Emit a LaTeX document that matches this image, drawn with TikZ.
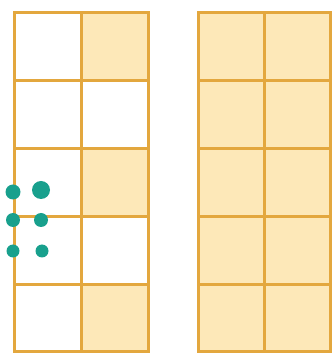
\documentclass[tikz,border=0pt]{standalone}
\usepackage{xcolor}
\usepackage{tikz}
\usetikzlibrary{positioning}
\definecolor{gridorange}{HTML}{E3A73E}
\definecolor{lightyellow}{HTML}{FDE8B8}
\definecolor{dotteal}{HTML}{18A08D}
\tikzset{
  cellbox/.style={draw=gridorange,line width=3pt},
  shadedcell/.style={cellbox,fill=lightyellow},
  dotmark/.style={fill=dotteal,draw=none}
}

\begin{document}
\begin{tikzpicture}[x=1pt,y=1pt]
\useasboundingbox (0,0) rectangle (332,353);
% left grid, shaded cells in right column
\foreach \c in {0,1}
  \foreach \r in {0,...,4}
    \draw[cellbox] ({14+67*\c},{1+67.8*\r}) rectangle +(67,67.8);
\foreach \r in {0,2,4}
  \draw[shadedcell] (81,{1+67.8*\r}) rectangle +(67,67.8);
% right grid, all shaded
\foreach \c in {0,1}
  \foreach \r in {0,...,4}
    \draw[shadedcell] ({198+66*\c},{1+67.8*\r}) rectangle +(66,67.8);
% dots
\fill[dotmark] (13,161) circle (7.5);
\fill[dotmark] (41,163) circle (9);
\foreach \x in {13,41}
  \fill[dotmark] (\x,133) circle (7);
\foreach \x in {13,42}
  \fill[dotmark] (\x,102) circle (6.5);
\end{tikzpicture}
\end{document}
